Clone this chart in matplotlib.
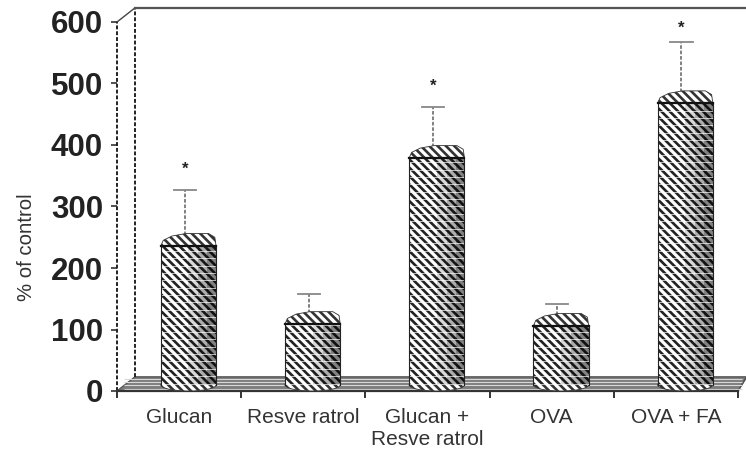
import numpy as np
import matplotlib
matplotlib.use('Agg')
import matplotlib.pyplot as plt
from matplotlib.patches import Ellipse, Polygon

plt.rcParams['font.family'] = ['Liberation Sans', 'DejaVu Sans']
plt.rcParams['hatch.linewidth'] = 1.9

categories = ['Glucan', 'Resve ratrol', 'Glucan +\nResve ratrol', 'OVA', 'OVA + FA']
values = [236, 109, 379, 106, 468]
errors = [91, 49, 83, 35, 99]
star_heights = [361, None, 496, None, 590]
yticks = [0, 100, 200, 300, 400, 500, 600]

# fake 3d offsets, in axis units
DX = 0.145
DY = 23
W = 0.445
HATCH = '\\\\\\\\'

W_PX, H_PX = 746, 453
fig = plt.figure(figsize=(W_PX / 100, H_PX / 100), dpi=100)
ax = fig.add_axes([117 / W_PX, 1 - 391 / H_PX, (738 - 117) / W_PX, (391 - 22) / H_PX])
ax.set_xlim(0, 5)
ax.set_ylim(0, 600)

for s in ['top', 'right']:
    ax.spines[s].set_visible(False)
ax.spines['left'].set_linestyle((0, (2, 1)))
ax.spines['left'].set_capstyle('butt')
ax.spines['left'].set_linewidth(1.4)
ax.spines['left'].set_color('#222222')
ax.spines['bottom'].set_linewidth(1.6)
ax.spines['bottom'].set_color('#333333')

# floor and back wall
ax.add_patch(Polygon([(0, 0), (DX, DY), (5 + 0.07, DY), (5, 0)], closed=True,
                     fc='#7d7d7d', ec='#555555', lw=1, clip_on=False, zorder=1))
ax.hlines(np.arange(4, DY, 5), 0.06, 5.03, color='#d8d8d8', lw=0.8, clip_on=False, zorder=1.5)
ax.plot([DX, DX], [DY, 623], color='#222222', lw=1.4, ls=(0, (2, 1)), clip_on=False, zorder=1)
ax.plot([0, DX], [600, 623], color='#444444', lw=1, clip_on=False, zorder=1)
ax.plot([DX, 5.07], [623, 623], color='#555555', lw=1.6, clip_on=False, zorder=1)
ax.plot([5, 5.07], [0, DY], color='#555555', lw=1, clip_on=False, zorder=1)

xpos = np.arange(5) + 0.575

for i, (x, v, e) in enumerate(zip(xpos, values, errors)):
    xe = x - 0.03
    ax.plot([xe, xe], [v, v + e], color='#777777', lw=1.3, ls=(0, (2, 1)), zorder=2)
    ax.plot([xe - 0.09, xe + 0.09], [v + e, v + e], color='#888888', lw=1.3, zorder=2)
    if star_heights[i] is not None:
        ax.text(xe, star_heights[i], '*', ha='center', va='center', fontsize=12, fontweight='bold', color='#222222')

    # top cap, bottom round and body
    x0, x1 = x - W / 2, x + W / 2
    cap = [(x0, v), (x0 + 0.02, v + 9), (x0 + 0.09, v + 16), (x0 + 0.2, v + 20),
           (x1 - 0.06, v + 20), (x1 - 0.01, v + 14), (x1, v)]
    ax.add_patch(Polygon(cap, closed=True, fc='white', ec='#333333', lw=0.6, hatch=HATCH, zorder=3))
    ax.add_patch(Ellipse((x, 10), W, 20, fc='white', ec='#333333', lw=0.6, hatch=HATCH, zorder=3))
    ax.bar(x, v - 10, W, bottom=10, color='white', edgecolor='#222222', lw=0, hatch=HATCH, zorder=4)
    ax.plot([x0, x0], [10, v], color='#222222', lw=0.8, zorder=6)
    ax.plot([x1, x1], [10, v], color='#222222', lw=0.8, zorder=6)
    ax.plot([x0, x1], [v, v], color='#111111', lw=1.6, zorder=6)
    # darker towards the right side
    for k, a in zip([0.5, 0.32, 0.16], [0.15, 0.2, 0.25]):
        ax.bar(x1 - k * W / 2, v - 10, k * W, bottom=10, color='black', alpha=a, lw=0, zorder=5)

    # white streaks of the scan
    ax.hlines(np.arange(12, v, 12), x0, x1, color='white', lw=0.6, alpha=0.8, zorder=5.5)

ax.set_xticks(np.arange(6))
ax.set_xticklabels([])
ax.set_xticks(np.arange(5) + 0.5, categories, minor=True)
ax.tick_params(axis='x', which='major', length=5, width=1.4, color='#333333')
ax.tick_params(axis='x', which='minor', length=0, pad=12, labelsize=15, labelcolor='#333333')
for lab in ax.get_xticklabels(minor=True):
    lab.set_linespacing(1.25)
ax.set_yticks(yticks)
ax.set_yticklabels(yticks, fontsize=22.5, fontweight='bold', color='#222222')
ax.tick_params(axis='y', length=4, width=1.2, pad=6, color='#333333')
ax.set_ylabel('% of control', fontsize=14.7, color='#333333')
ax.yaxis.set_label_coords(-0.131, 0.39)

fig.savefig('out.png', dpi=100)
